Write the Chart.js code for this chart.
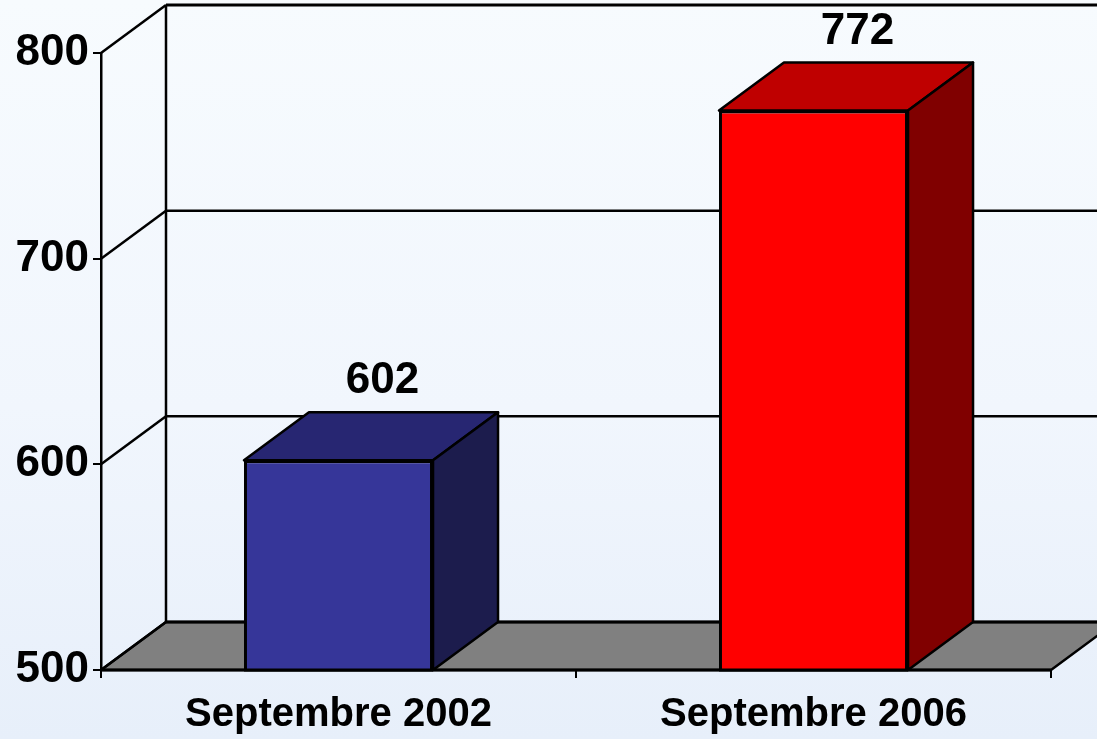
<!DOCTYPE html>
<html lang="fr">
<head>
<meta charset="utf-8">
<title>Septembre 2002 / 2006</title>
<script src="https://cdn.jsdelivr.net/npm/chart.js@4.4.1/dist/chart.umd.min.js"></script>
<style>
  html, body { margin: 0; padding: 0; }
  body {
    width: 1097px; height: 739px; overflow: hidden;
    background: linear-gradient(to bottom, #f7fbfe 0%, #f1f6fd 55%, #e7effa 100%);
  }
  #wrap { position: relative; width: 1097px; height: 739px; }
</style>
</head>
<body>
<div id="wrap"><canvas id="chart"></canvas></div>
<script>
// Données
const categories = ['Septembre 2002', 'Septembre 2006'];
const valeurs = [602, 772];
const yMin = 500;
const yMax = 800;
const yStep = 100;

// Couleurs des faces (avant / dessus / côté)
const FACE = ['#363699', '#ff0000'];
const DESSUS = ['#272672', '#bf0000'];
const COTE = ['#1c1c4d', '#800000'];
const SOL = '#808080';

// Profondeur 3D (décalage vers le fond)
const DX = 65;
const DY = -48;
const TRAIT = 2.5;

Chart.defaults.font.family = "'Liberation Sans', Arial, sans-serif";
Chart.defaults.font.weight = 'bold';
Chart.defaults.color = '#000';

function poly(ctx, pts, fill, lw) {
  ctx.beginPath();
  ctx.moveTo(pts[0][0], pts[0][1]);
  for (let i = 1; i < pts.length; i++) ctx.lineTo(pts[i][0], pts[i][1]);
  ctx.closePath();
  if (fill) { ctx.fillStyle = fill; ctx.fill(); }
  ctx.lineWidth = lw || TRAIT;
  ctx.strokeStyle = '#000';
  ctx.lineJoin = 'round';
  ctx.stroke();
}

function line(ctx, x1, y1, x2, y2, lw) {
  ctx.beginPath();
  ctx.moveTo(x1, y1);
  ctx.lineTo(x2, y2);
  ctx.lineWidth = lw || TRAIT;
  ctx.strokeStyle = '#000';
  ctx.stroke();
}

// Murs, grille du fond et sol — avant les barres
const decor3d = {
  id: 'decor3d',
  beforeDatasetsDraw(chart) {
    const { ctx, chartArea: a, scales: { y } } = chart;
    ctx.save();
    // sol
    poly(ctx, [[a.left, a.bottom], [a.right, a.bottom], [a.right + DX, a.bottom + DY], [a.left + DX, a.bottom + DY]], SOL);
    line(ctx, a.left + DX, a.bottom + DY, a.right + DX, a.bottom + DY, 3);
    // grille du fond + mur gauche
    y.ticks.forEach((t) => {
      const py = y.getPixelForValue(t.value);
      if (t.value !== yMin) {
        line(ctx, a.left + DX, py + DY, a.right + DX, py + DY, t.value === yMax ? 3 : TRAIT);
      }
      line(ctx, a.left, py, a.left + DX, py + DY);
    });
    line(ctx, a.left + DX, y.getPixelForValue(yMax) + DY, a.left + DX, a.bottom + DY);
    line(ctx, a.left, a.bottom, a.right, a.bottom, 3);
    ctx.restore();
  },
  afterDatasetsDraw(chart) {
    const { ctx, chartArea: a } = chart;
    const meta = chart.getDatasetMeta(0);
    ctx.save();
    meta.data.forEach((bar, i) => {
      const l = bar.x - bar.width / 2;
      const r = bar.x + bar.width / 2;
      const top = bar.y;
      const base = Math.min(bar.base, a.bottom);
      poly(ctx, [[l, top], [r, top], [r + DX, top + DY], [l + DX, top + DY]], DESSUS[i]);
      poly(ctx, [[r, top], [r + DX, top + DY], [r + DX, base + DY], [r, base]], COTE[i]);
      line(ctx, l, base, r, base, 3);
      // étiquette
      ctx.font = "bold 44px 'Liberation Sans', Arial, sans-serif";
      ctx.fillStyle = '#000';
      ctx.textAlign = 'center';
      ctx.textBaseline = 'alphabetic';
      ctx.fillText(String(valeurs[i]), bar.x + 44, top + DY - 19);
    });
    ctx.restore();
  },
};

new Chart(document.getElementById('chart'), {
  type: 'bar',
  data: {
    labels: categories,
    datasets: [{
      data: valeurs,
      backgroundColor: FACE,
      borderColor: '#000',
      borderWidth: 3,
      borderSkipped: false,
      categoryPercentage: 0.8,
      barPercentage: 0.4975,
    }],
  },
  options: {
    responsive: true, maintainAspectRatio: false,
    animation: false,
    layout: { padding: { top: 53, right: 46, left: 0, bottom: 0 } },
    plugins: { legend: { display: false }, tooltip: { enabled: false } },
    scales: {
      x: {
        afterFit: (s) => { s.height = 69; },
        grid: { drawOnChartArea: false, drawTicks: true, tickLength: 8, color: '#000', lineWidth: 2 },
        border: { display: true, color: '#000', width: 2 },
        ticks: { font: { size: 40, weight: 'bold' }, color: '#000', padding: 13, maxRotation: 0 },
      },
      y: {
        min: yMin, max: yMax,
        afterFit: (s) => { s.width = 101; },
        grid: { drawOnChartArea: false, drawTicks: true, tickLength: 8, color: '#000', lineWidth: 2 },
        border: { display: true, color: '#000', width: 2.5 },
        ticks: { stepSize: yStep, font: { size: 44, weight: 'bold' }, color: '#000', padding: 4 },
      },
    },
  },
  plugins: [decor3d],
});
</script>
</body>
</html>
